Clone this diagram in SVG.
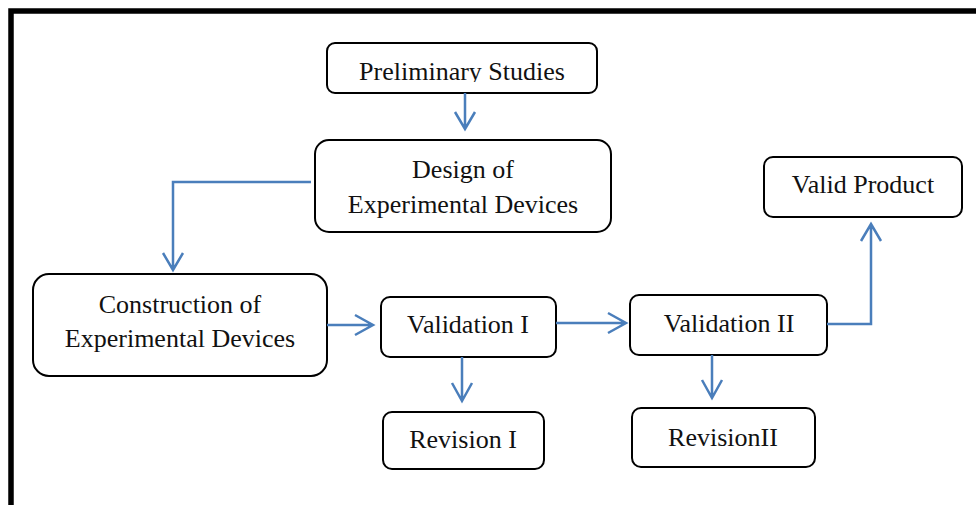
<svg xmlns="http://www.w3.org/2000/svg" width="976" height="505" viewBox="0 0 976 505">
<defs>
<style>
.box{fill:#fff;stroke:#000;stroke-width:2}
.t{font-family:"Liberation Serif","Times New Roman",serif;font-size:26px;fill:#111;text-anchor:middle}
.c{fill:none;stroke:#4a7ebb;stroke-width:2.5}
</style>
<clipPath id="clipPre"><rect x="328" y="44" width="268" height="38"/></clipPath>
</defs>
<rect width="976" height="505" fill="#fff"/>
<path d="M11,505 V11 H976" fill="none" stroke="#000" stroke-width="5.5"/>

<g id="n-prelim">
<rect class="box" x="327" y="43" width="270" height="50" rx="8"/>
<text class="t" x="462" y="80" clip-path="url(#clipPre)">Preliminary Studies</text>
</g>
<g id="n-design">
<rect class="box" x="315" y="140" width="296" height="92" rx="14"/>
<text class="t" x="463" y="178">Design of</text>
<text class="t" x="463" y="213">Experimental Devices</text>
</g>
<g id="n-construction">
<rect class="box" x="33" y="274" width="294" height="102" rx="16"/>
<text class="t" x="180" y="313">Construction of</text>
<text class="t" x="180" y="347">Experimental Devices</text>
</g>
<g id="n-val1">
<rect class="box" x="381" y="297" width="175" height="60" rx="9"/>
<text class="t" x="468" y="333">Validation I</text>
</g>
<g id="n-val2">
<rect class="box" x="630" y="295" width="197" height="60" rx="9"/>
<text class="t" x="729" y="332">Validation II</text>
</g>
<g id="n-rev1">
<rect class="box" x="383" y="412" width="161" height="57" rx="9"/>
<text class="t" x="463" y="448">Revision I</text>
</g>
<g id="n-rev2">
<rect class="box" x="632" y="408" width="183" height="59" rx="9"/>
<text class="t" x="723" y="446">RevisionII</text>
</g>
<g id="n-valid">
<rect class="box" x="764" y="157" width="198" height="60" rx="9"/>
<text class="t" x="863" y="193">Valid Product</text>
</g>

<g id="connectors">
<path class="c" d="M465,93 V129 M455,112 L465,129 L475,112"/>
<path class="c" d="M311,182 H173 V270 M163,253 L173,270 L183,253"/>
<path class="c" d="M327,325 H373 M355,315 L373,325 L355,335"/>
<path class="c" d="M556,323 H626 M608,313 L626,323 L608,333"/>
<path class="c" d="M462,357 V401 M452,383 L462,401 L472,383"/>
<path class="c" d="M712,355 V398 M702,380 L712,398 L722,380"/>
<path class="c" d="M827,324 H871 V224 M861,241 L871,224 L881,241"/>
</g>
</svg>
